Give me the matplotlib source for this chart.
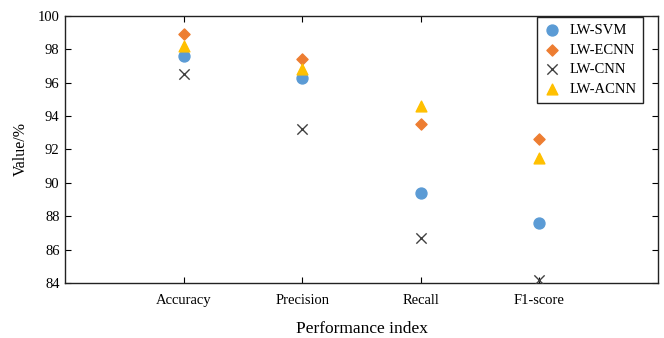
import matplotlib
matplotlib.use("Agg")
import matplotlib.pyplot as plt

categories = ["Accuracy", "Precision", "Recall", "F1-score"]
svm = [97.6, 96.3, 89.4, 87.6]
ecnn = [98.9, 97.4, 93.5, 92.6]
cnn = [96.5, 93.2, 86.7, 84.2]
acnn = [98.2, 96.8, 94.6, 91.5]
yticks = [84, 86, 88, 90, 92, 94, 96, 98, 100]

plt.rcParams['font.family'] = ['Liberation Serif', 'DejaVu Serif']

fig = plt.figure(figsize=(6.64, 3.38), dpi=100)
ax = fig.add_axes([0.098, 0.163, 0.893, 0.790])
x = list(range(1, len(categories) + 1))

ax.scatter(x, svm, marker='o', s=62, color='#5B9BD5', label='LW-SVM', zorder=3)
ax.scatter(x, ecnn, marker='D', s=32, color='#ED7D31', label='LW-ECNN', zorder=3)
ax.scatter(x, cnn, marker='x', s=55, color='#404040', linewidths=1.0, label='LW-CNN', zorder=3)
ax.scatter(x, acnn, marker='^', s=60, color='#FFC000', label='LW-ACNN', zorder=3)

ax.set_xlim(0, 5)
ax.set_ylim(84, 100)
ax.set_xticks(x)
ax.set_xticklabels(categories, fontsize=10.5)
ax.set_yticks(yticks)
ax.set_yticklabels([str(t) for t in yticks], fontsize=10.5)
ax.tick_params(axis='x', direction='in', top=True, length=4, pad=8)
ax.tick_params(axis='y', direction='in', left=True, right=True, length=4, pad=4)

for s in ax.spines.values():
    s.set_linewidth(1.0)
    s.set_color('#222222')

ax.set_xlabel('Performance index', fontsize=12.5, labelpad=10)
ax.set_ylabel('Value/%', fontsize=11.5, labelpad=6)

leg = ax.legend(loc='upper right', bbox_to_anchor=(643 / 664, 1 - 17 / 338),
                bbox_transform=fig.transFigure, fontsize=10.5, frameon=True,
                fancybox=False, edgecolor='#222222', borderpad=0.45,
                handlelength=1.2, handletextpad=0.6, labelspacing=0.45,
                borderaxespad=0, scatterpoints=1, framealpha=1)
leg.get_frame().set_linewidth(1.0)

fig.savefig('out.png', dpi=100)
